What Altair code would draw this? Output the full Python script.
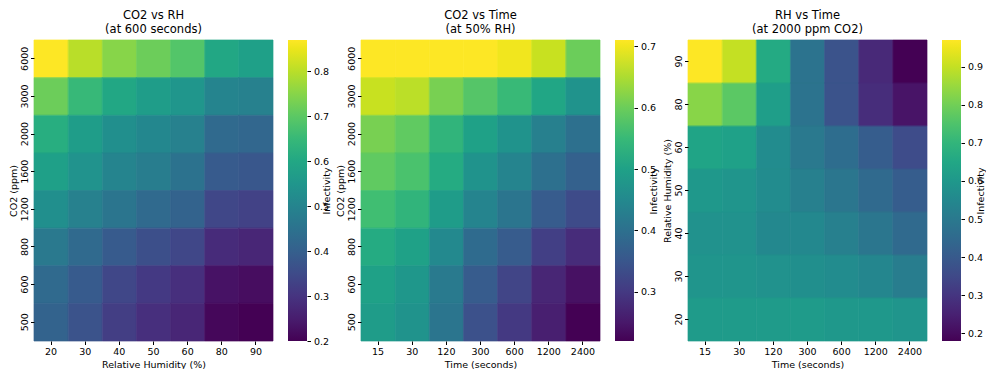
import altair as alt
import pandas as pd

# ---------- data ----------
rh_levels = ["20", "30", "40", "50", "60", "80", "90"]
time_levels = ["15", "30", "120", "300", "600", "1200", "2400"]
co2_rows = ["6000", "3000", "2000", "1600", "1200", "800", "600", "500"]
rh_rows = ["90", "80", "60", "50", "40", "30", "20"]

# Panel 1: CO2 (rows, top->bottom) vs RH (cols), at 600 s
p1_values = [
    [0.87, 0.80, 0.75, 0.72, 0.69, 0.60, 0.58],
    [0.72, 0.65, 0.60, 0.57, 0.55, 0.50, 0.49],
    [0.62, 0.57, 0.53, 0.51, 0.49, 0.43, 0.42],
    [0.58, 0.54, 0.50, 0.48, 0.45, 0.39, 0.38],
    [0.53, 0.49, 0.46, 0.43, 0.41, 0.34, 0.33],
    [0.47, 0.43, 0.39, 0.36, 0.34, 0.28, 0.27],
    [0.43, 0.39, 0.34, 0.31, 0.29, 0.23, 0.22],
    [0.41, 0.37, 0.32, 0.29, 0.27, 0.21, 0.20],
]

# Panel 2: CO2 (rows) vs Time (cols), at 50% RH
p2_values = [
    [0.71, 0.71, 0.71, 0.71, 0.70, 0.67, 0.60],
    [0.67, 0.66, 0.61, 0.58, 0.55, 0.51, 0.47],
    [0.61, 0.59, 0.54, 0.50, 0.47, 0.43, 0.40],
    [0.59, 0.57, 0.52, 0.47, 0.44, 0.40, 0.37],
    [0.56, 0.54, 0.49, 0.44, 0.41, 0.36, 0.33],
    [0.52, 0.50, 0.45, 0.39, 0.36, 0.31, 0.28],
    [0.50, 0.48, 0.42, 0.36, 0.32, 0.27, 0.24],
    [0.49, 0.47, 0.41, 0.34, 0.30, 0.26, 0.22],
]

# Panel 3: RH (rows) vs Time (cols), at 2000 ppm CO2
p3_values = [
    [0.97, 0.90, 0.66, 0.48, 0.38, 0.27, 0.18],
    [0.83, 0.77, 0.62, 0.48, 0.38, 0.28, 0.22],
    [0.64, 0.63, 0.56, 0.50, 0.46, 0.41, 0.36],
    [0.60, 0.59, 0.56, 0.52, 0.49, 0.45, 0.41],
    [0.58, 0.58, 0.55, 0.55, 0.52, 0.49, 0.45],
    [0.59, 0.59, 0.58, 0.57, 0.56, 0.54, 0.51],
    [0.61, 0.61, 0.61, 0.61, 0.60, 0.60, 0.59],
]

p1_ticks = [0.2, 0.3, 0.4, 0.5, 0.6, 0.7, 0.8]
p2_ticks = [0.3, 0.4, 0.5, 0.6, 0.7]
p3_ticks = [0.2, 0.3, 0.4, 0.5, 0.6, 0.7, 0.8, 0.9]


def to_long(rows, cols, values):
    recs = []
    for r, row in zip(rows, values):
        for c, v in zip(cols, row):
            recs.append({"x": c, "y": r, "v": v})
    return pd.DataFrame(recs)


FONT = "DejaVu Sans"
W, H = 239, 301
CB_OFF, CB_W = 15, 19


def heat(df, xorder, yorder, xtitle, ytitle, title, ticks):
    base = alt.Chart(df)
    vir = alt.Scale(scheme="viridis", nice=False, zero=False)
    band = alt.Scale(paddingInner=0, paddingOuter=0)
    xenc = alt.X("x:O", sort=xorder, title=xtitle, scale=band,
                 axis=alt.Axis(labelAngle=0))
    rects = base.mark_rect().encode(
        x=xenc,
        y=alt.Y("y:O", sort=yorder, title=ytitle, scale=band,
                axis=alt.Axis(labelAngle=270, labelAlign="center", labelBaseline="bottom",
                              labelPadding=1, titlePadding=1)),
        color=alt.Color(
            "v:Q",
            scale=vir,
            legend=alt.Legend(
                type="gradient",
                title=None,
                labelOpacity=0,
                orient="none",
                legendX=W + CB_OFF,
                legendY=0,
                gradientLength=H,
                gradientThickness=CB_W,
                gradientStrokeWidth=0,
            ),
        ),
    )
    # thin same-colour outline to hide anti-aliasing seams between cells
    seams = base.mark_rect(filled=False, strokeWidth=0.7).encode(
        x=xenc,
        y=alt.Y("y:O", sort=yorder, scale=band, axis=None),
        stroke=alt.Stroke("v:Q", scale=vir, legend=None),
    )
    # colorbar axis (ticks + labels + title) sharing the color domain
    cbar_axis = base.mark_point(opacity=0, size=0).encode(
        y=alt.Y(
            "v:Q",
            scale=alt.Scale(nice=False, zero=False),
            axis=alt.Axis(
                orient="right",
                offset=CB_OFF + CB_W,
                values=ticks,
                format=".1f",
                title="Infectivity",
                titleAngle=270,
                titlePadding=3,
                labelPadding=3,
                grid=False,
            ),
        ),
    )
    return (
        alt.layer(rects, seams, cbar_axis)
        .resolve_scale(y="independent")
        .properties(
            width=W,
            height=H,
            title=alt.TitleParams(text=title, frame="group", anchor="middle"),
        )
    )


c1 = heat(to_long(co2_rows, rh_levels, p1_values), rh_levels, co2_rows,
          "Relative Humidity (%)", "CO2 (ppm)", ["CO2 vs RH", "(at 600 seconds)"], p1_ticks)
c2 = heat(to_long(co2_rows, time_levels, p2_values), time_levels, co2_rows,
          "Time (seconds)", "CO2 (ppm)", ["CO2 vs Time", "(at 50% RH)"], p2_ticks)
c3 = heat(to_long(rh_rows, time_levels, p3_values), time_levels, rh_rows,
          "Time (seconds)", "Relative Humidity (%)", ["RH vs Time", "(at 2000 ppm CO2)"], p3_ticks)

chart = (
    alt.hconcat(c1, c2, c3, spacing=3)
    .resolve_scale(color="independent", stroke="independent")
    .properties(padding={"left": 0, "top": 2, "right": 0, "bottom": 0})
    .configure_view(stroke=None)
    .configure_axis(
        domain=False,
        ticks=True,
        tickSize=3.5,
        tickColor="#000000",
        labelFont=FONT,
        labelFontSize=9.5,
        labelColor="#000000",
        labelPadding=2,
        titleFont=FONT,
        titleFontSize=9.5,
        titleFontWeight="normal",
        titleColor="#000000",
        titlePadding=3,
    )
    .configure_title(
        font=FONT,
        fontSize=11.5,
        fontWeight="normal",
        color="#000000",
        offset=0,
        lineHeight=14,
    )
)

chart.save("out.html", embed_options={"renderer": "svg", "actions": False})
